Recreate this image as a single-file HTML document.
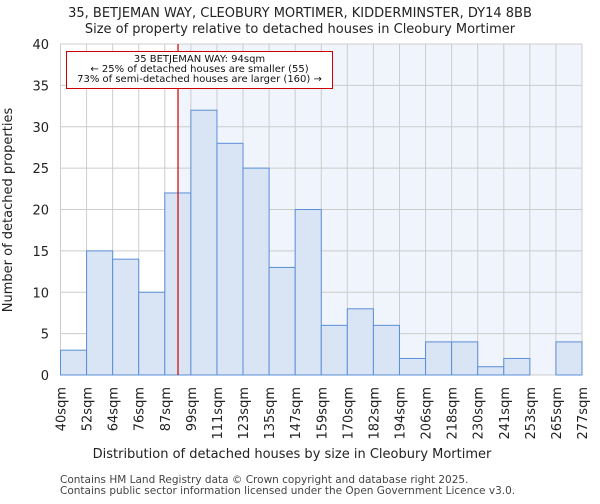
<!DOCTYPE html>
<html><head><meta charset="utf-8"><style>
body{margin:0;background:#fff;font-family:"DejaVu Sans","Liberation Sans",sans-serif}
</style></head><body>
<svg id="c" width="600" height="500" xmlns="http://www.w3.org/2000/svg" font-family="DejaVu Sans, Liberation Sans, sans-serif">
<text x="300" y="17" text-anchor="middle" font-size="13" fill="#222">35, BETJEMAN WAY, CLEOBURY MORTIMER, KIDDERMINSTER, DY14 8BB</text>
<text x="300" y="33" text-anchor="middle" font-size="13" fill="#222">Size of property relative to detached houses in Cleobury Mortimer</text>
<g id="plot"></g>
<text x="292" y="458" text-anchor="middle" font-size="13" fill="#222">Distribution of detached houses by size in Cleobury Mortimer</text>
<text transform="translate(12,210) rotate(-90)" text-anchor="middle" font-size="13" fill="#222">Number of detached properties</text>
<text x="60" y="483" font-size="10.5" fill="#444">Contains HM Land Registry data © Crown copyright and database right 2025.</text>
<text x="60" y="494" font-size="10.5" fill="#444">Contains public sector information licensed under the Open Government Licence v3.0.</text>
</svg>
<script>
const categories=["40sqm","52sqm","64sqm","76sqm","87sqm","99sqm","111sqm","123sqm","135sqm","147sqm","159sqm","170sqm","182sqm","194sqm","206sqm","218sqm","230sqm","241sqm","253sqm","265sqm","277sqm"];
const counts=[3,15,14,10,22,32,28,25,13,20,6,8,6,2,4,4,1,2,0,4];
const yTicks=[0,5,10,15,20,25,30,35,40];
const binStarts=[40,52,64,76,87,99,111,123,135,147,159,170,182,194,206,218,230,241,253,265,277];
const propertySize=94;
const NS="http://www.w3.org/2000/svg";
const L=60.5,R=582,T=44,B=375,yMax=40;
const bw=(R-L)/counts.length;
const y=v=>B-(v/yMax)*(B-T);
const xi=i=>L+i*bw;
function xVal(v){for(let i=0;i<binStarts.length-1;i++){if(v>=binStarts[i]&&v<=binStarts[i+1])return xi(i)+(v-binStarts[i])/(binStarts[i+1]-binStarts[i])*bw;}return R;}
const g=document.getElementById('plot');
function mk(t,a){const e=document.createElementNS(NS,t);for(const k in a)e.setAttribute(k,a[k]);g.appendChild(e);return e;}
const rx=xVal(propertySize)-2;
let e=mk('rect',{x:rx,y:T,width:R-rx,height:B-T,fill:'#f0f4fc'});


for(let i=0;i<=counts.length;i++){e=mk('line',{x1:xi(i),x2:xi(i),y1:T,y2:B,stroke:'#cccccc','stroke-width':1});

}
yTicks.forEach(t=>{e=mk('line',{x1:L,x2:R,y1:y(t),y2:y(t),stroke:'#cccccc','stroke-width':1});


e=mk('text',{x:49,y:y(t)+5,'text-anchor':'end','font-size':13,fill:'#222'});e.textContent=t;

});
counts.forEach((c,i)=>{if(c<=0)return;e=mk('rect',{x:xi(i),y:y(c),width:bw,height:B-y(c),fill:'#d9e4f5',stroke:'#5b8fd8','stroke-width':1});

});
categories.forEach((c,i)=>{const x=xi(i);e=mk('text',{transform:`translate(${x+5},${B+12}) rotate(-90)`,'text-anchor':'end','font-size':13,fill:'#222'});e.textContent=c;

});
e=mk('line',{x1:rx,x2:rx,y1:T,y2:B,stroke:'#d00000','stroke-width':1.2});


e=mk('rect',{x:66.5,y:51.5,width:266,height:37,fill:'#fff',stroke:'#cc0000','stroke-width':1});


["35 BETJEMAN WAY: 94sqm","← 25% of detached houses are smaller (55)","73% of semi-detached houses are larger (160) →"].forEach((s,k)=>{e=mk('text',{x:199.5,y:62+k*10,'text-anchor':'middle','font-size':10,fill:'#111'});e.textContent=s;

});
</script>
</body></html>
